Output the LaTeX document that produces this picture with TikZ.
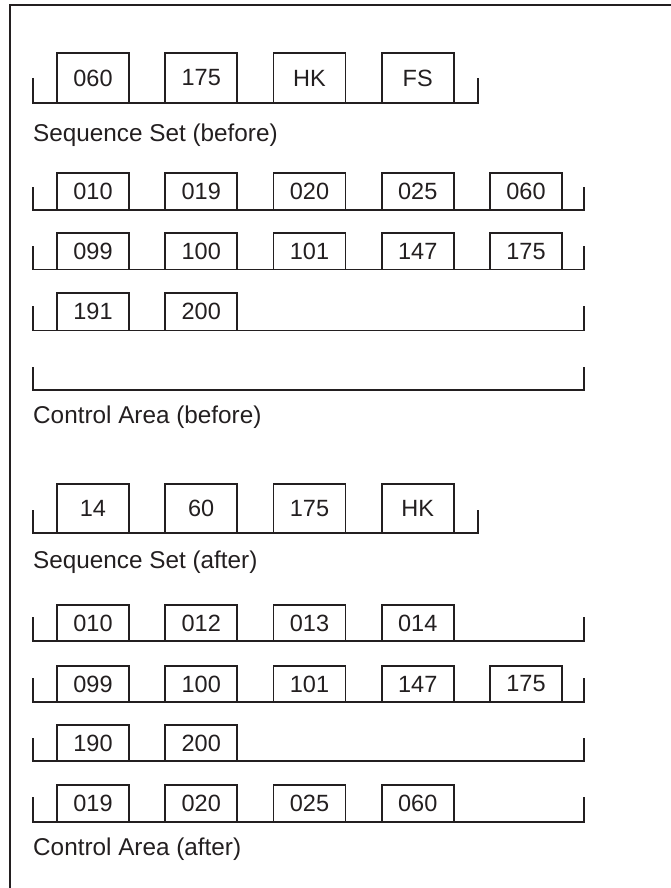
\documentclass[tikz,border=0pt]{standalone}
\usepackage{fontspec}
\setmainfont{Liberation Sans}
\definecolor{ink}{HTML}{231F20}
\newcommand\cellrow[6]{%
  \coordinate (#1L) at (33.3,#4);
  \coordinate (#1R) at (#5,#4);
  \draw[rail] (#1L) -- (33.3,{#2+#3}) -| (#1R);
  \foreach \t [count=\i] in {#6}
    \node[cell, minimum height=#3pt] (#1\i) at ({57+108.25*(\i-1)},#2) {\t};
}
\begin{document}
\begin{tikzpicture}[x=1pt,y=-1pt,
  cell/.style={draw=ink, line width=1.8pt, fill=white, anchor=north west,
    inner sep=0pt, outer sep=0pt, minimum width=72pt,
    font=\fontsize{23.5}{26}\selectfont, text=ink},
  rail/.style={draw=ink, line width=1.8pt},
  lbl/.style={anchor=west, inner sep=0pt, font=\fontsize{24.3}{27}\selectfont, text=ink},
  frame/.style={draw=ink, line width=2.2pt}]
\useasboundingbox (0,0) rectangle (670,888);
\draw[frame] (10,892) -- (10,5) -- (674,5);

% Sequence Set (before)
\cellrow{sb}{53.3}{49.4}{78}{477.7}{060,175,HK,FS}
\node[lbl] (sblabel) at (33,135) {Sequence Set (before)};

% Control Area (before)
\cellrow{cba}{172.7}{37.3}{187}{584}{010,019,020,025,060}
\cellrow{cbb}{233.3}{36.2}{246}{584}{099,100,101,147,175}
\cellrow{cbc}{293.3}{37.2}{306}{584}{191,200}
\coordinate (cbdL) at (33.3,367);
\coordinate (cbdR) at (584,367);
\draw[rail] (cbdL) -- (33.3,390) -| (cbdR);
\node[lbl] (cblabel) at (33,417) {Control Area (before)};

% Sequence Set (after)
\cellrow{sa}{484.3}{49}{510}{477.7}{14,60,175,HK}
\node[lbl] (salabel) at (33,562) {Sequence Set (after)};

% Control Area (after)
\cellrow{caa}{605}{36}{617}{584}{010,012,013,014}
\cellrow{cab}{666}{36}{678}{584}{099,100,101,147,175}
\cellrow{cac}{725}{36}{738}{584}{190,200}
\cellrow{cad}{785}{37}{797}{584}{019,020,025,060}
\node[lbl] (calabel) at (33,849) {Control Area (after)};
\end{tikzpicture}
\end{document}
